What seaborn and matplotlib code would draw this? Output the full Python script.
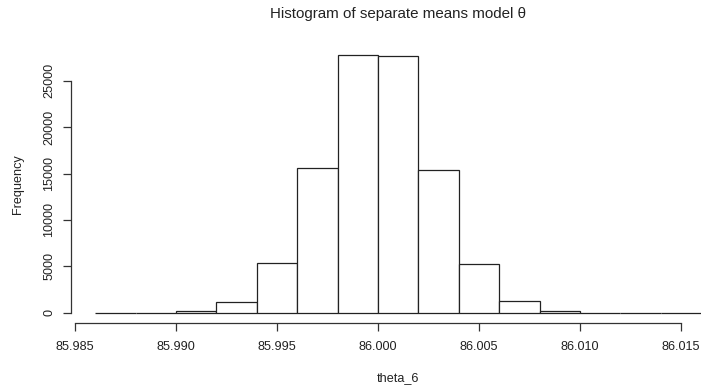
import numpy as np
import matplotlib
matplotlib.use("Agg")
import matplotlib.pyplot as plt
import seaborn as sns

# Data (R histogram, bin width 0.002)
bin_edges = [85.986, 85.988, 85.990, 85.992, 85.994, 85.996, 85.998, 86.000,
             86.002, 86.004, 86.006, 86.008, 86.010, 86.012, 86.014, 86.016]
counts = [1, 10, 200, 1190, 5320, 15590, 27770, 27690,
          15410, 5250, 1260, 200, 15, 1, 0]
x_ticks = [85.985, 85.990, 85.995, 86.000, 86.005, 86.010, 86.015]
x_tick_labels = ["85.985", "85.990", "85.995", "86.000", "86.005", "86.010", "86.015"]
y_ticks = [0, 5000, 10000, 15000, 20000, 25000]
y_tick_labels = ["0", "5000", "10000", "15000", "20000", "25000"]
title = "Histogram of separate means model θ"
xlabel = "theta_6"
ylabel = "Frequency"

sns.set_style("white")
plt.rcParams["font.family"] = ["Liberation Sans", "DejaVu Sans"]

W, H = 701, 390
fig = plt.figure(figsize=(W / 100, H / 100), dpi=100)
left_px, right_px, top_px, bot_px = 71, 701, 44.7, 323
ax = fig.add_axes([left_px / W, 1 - bot_px / H, (right_px - left_px) / W, (bot_px - top_px) / H])

centers = [(a + b) / 2 for a, b in zip(bin_edges[:-1], bin_edges[1:])]
sns.histplot(x=centers, weights=counts, bins=bin_edges, ax=ax,
             color="white", edgecolor="#222222", linewidth=0.9, alpha=1.0)

# R-like limits: 4% extension
px_per_unit = 20200.0
x0 = 85.985 - (75 - left_px) / px_per_unit
x1 = 85.985 + (right_px - 75) / px_per_unit
ax.set_xlim(x0, x1)
ymax = max(counts)
ax.set_ylim(-0.04 * ymax, ymax * 1.04)

for s in ["top", "right"]:
    ax.spines[s].set_visible(False)
ax.spines["left"].set_bounds(0, 25000)
ax.spines["bottom"].set_bounds(85.985, 86.015)
for s in ["left", "bottom"]:
    ax.spines[s].set_color("#333333")
    ax.spines[s].set_linewidth(0.9)

ax.set_xticks(x_ticks)
ax.set_xticklabels(x_tick_labels)
ax.set_yticks(y_ticks)
ax.set_yticklabels(y_tick_labels, rotation=90, va="center")
ax.tick_params(axis="both", direction="out", length=5.5, width=0.9, color="#333333",
               labelsize=9.1, labelcolor="#222222", bottom=True, left=True)
ax.tick_params(axis="x", pad=7.5)
ax.tick_params(axis="y", pad=6)
ax.set_xlabel("")
ax.set_ylabel("")

center_x = (71 + 725) / 2 / W
fig.text(center_x, 1 - 14 / H, title, ha="center", va="center", fontsize=10.9, color="#222222")
fig.text(center_x, 1 - 378 / H, xlabel, ha="center", va="center", fontsize=9.1, color="#222222")
fig.text(18 / W, 1 - 184 / H, ylabel, ha="center", va="center", rotation=90, fontsize=9.1, color="#222222")

fig.savefig("out.png", dpi=100)
